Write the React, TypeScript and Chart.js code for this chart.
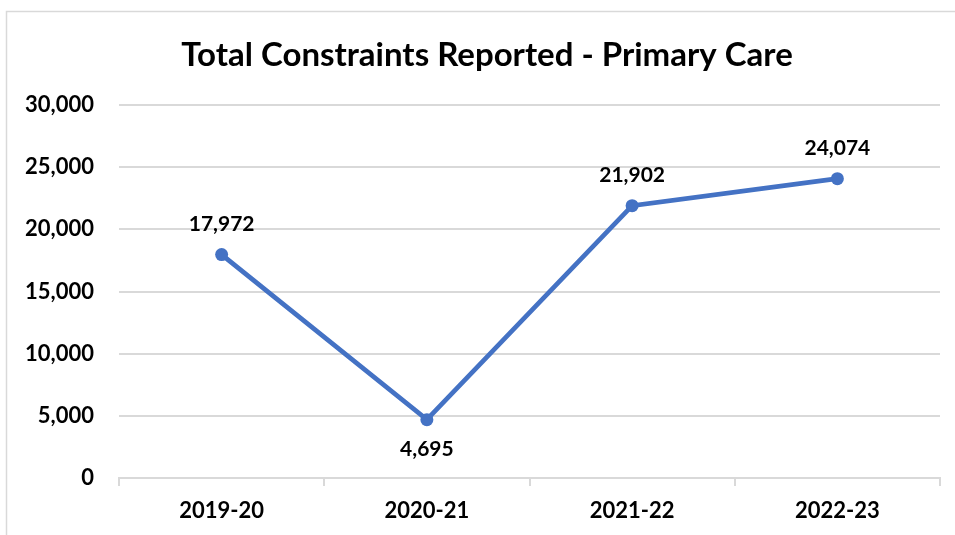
import { useEffect, useRef } from "react";
import { Chart, registerables } from "chart.js";

Chart.register(...registerables);

const TITLE = "Total Constraints Reported - Primary Care";
const categories = ["2019-20", "2020-21", "2021-22", "2022-23"];
const constraints = [17972, 4695, 21902, 24074];
const labelSides = ["above", "below", "above", "above"];
const yMin = 0;
const yMax = 30000;
const yStep = 5000;

const FONT = "Lato, 'Open Sans', sans-serif";
const fmt = (v: number) => Number(v).toLocaleString("en-US");

// frame + centred title (the chart frame's centre sits at x≈487)
const framePlugin = {
  id: "frame",
  beforeDraw(chart: any) {
    const ctx = chart.ctx;
    ctx.save();
    ctx.fillStyle = "#ffffff";
    ctx.fillRect(0, 0, chart.width, chart.height);
    ctx.strokeStyle = "#d9d9d9";
    ctx.lineWidth = 1.5;
    ctx.strokeRect(6.5, 11.5, chart.width + 20, chart.height + 20);
    ctx.font = `bold 33px ${FONT}`;
    ctx.fillStyle = "#000000";
    ctx.textAlign = "center";
    ctx.textBaseline = "middle";
    ctx.fillText(TITLE, 487, 55);
    ctx.restore();
  },
};

const dataLabelPlugin = {
  id: "dataLabels",
  afterDatasetsDraw(chart: any) {
    const ctx = chart.ctx;
    const meta = chart.getDatasetMeta(0);
    ctx.save();
    ctx.font = `bold 21px ${FONT}`;
    ctx.fillStyle = "#000000";
    ctx.textAlign = "center";
    ctx.textBaseline = "middle";
    meta.data.forEach((pt: any, i: number) => {
      const off = labelSides[i] === "below" ? 30 : -30;
      ctx.fillText(fmt(constraints[i]), pt.x, pt.y + off);
    });
    ctx.restore();
  },
};

export default function App() {
  const ref = useRef<HTMLCanvasElement | null>(null);

  useEffect(() => {
    if (!ref.current) return;
    const chart = new Chart(ref.current, {
      type: "line",
      data: {
        labels: categories,
        datasets: [
          {
            data: constraints,
            borderColor: "#4472C4",
            backgroundColor: "#4472C4",
            borderWidth: 4.8,
            pointRadius: 6.5,
            pointBackgroundColor: "#4472C4",
            pointBorderWidth: 0,
            tension: 0,
          },
        ],
      },
      options: {
        responsive: false,
        animation: false,
        layout: { padding: { left: 0, right: 15, top: 105, bottom: 10 } },
        plugins: {
          legend: { display: false },
          tooltip: { enabled: false },
          title: { display: false },
        },
        scales: {
          x: {
            offset: true,
            grid: {
              offset: true,
              drawOnChartArea: false,
              drawTicks: true,
              tickLength: 8,
              color: "#d9d9d9",
              lineWidth: 2,
            },
            border: { display: true, color: "#d9d9d9", width: 2 },
            ticks: {
              color: "#000000",
              font: { family: FONT, size: 22, weight: "bold" },
              padding: 12,
            },
            afterFit: (s: any) => {
              s.height = 47;
            },
          },
          y: {
            min: yMin,
            max: yMax,
            grid: { color: "#d9d9d9", lineWidth: 2, drawTicks: false },
            border: { display: false },
            ticks: {
              stepSize: yStep,
              color: "#000000",
              font: { family: FONT, size: 22, weight: "bold" },
              padding: 25,
              callback: (v: any) => fmt(v),
            },
            afterFit: (s: any) => {
              s.width = 119;
            },
          },
        },
      },
      plugins: [framePlugin, dataLabelPlugin],
    });
    return () => chart.destroy();
  }, []);

  return (
    <div style={{ position: "absolute", left: 0, top: 0, width: 955, height: 535 }}>
      <canvas ref={ref} width={955} height={535} />
    </div>
  );
}
